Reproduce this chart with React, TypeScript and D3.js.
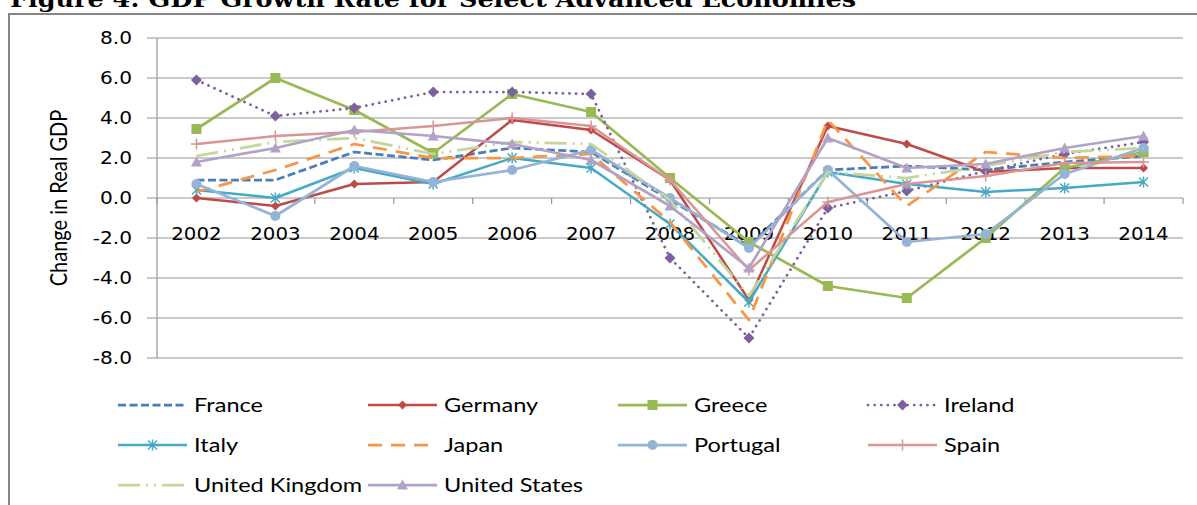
import React from "react";
import * as d3 from "d3";

const years = ["2002", "2003", "2004", "2005", "2006", "2007", "2008", "2009", "2010", "2011", "2012", "2013", "2014"];
const yTicks = [8, 6, 4, 2, 0, -2, -4, -6, -8];

const france = [0.9, 0.9, 2.3, 1.9, 2.5, 2.3, -0.1, -2.4, 1.4, 1.6, 1.4, 1.8, 2.1];
const germany = [0.0, -0.4, 0.7, 0.8, 3.9, 3.4, 0.9, -5.1, 3.6, 2.7, 1.3, 1.5, 1.5];
const greece = [3.45, 6.0, 4.4, 2.25, 5.2, 4.3, 1.0, -2.2, -4.4, -5.0, -2.0, 1.5, 2.3];
const ireland = [5.9, 4.1, 4.5, 5.3, 5.3, 5.2, -3.0, -7.0, -0.5, 0.35, 1.35, 2.2, 2.8];
const italy = [0.4, 0.0, 1.5, 0.7, 2.0, 1.5, -1.3, -5.2, 1.3, 0.7, 0.3, 0.5, 0.8];
const japan = [0.3, 1.4, 2.7, 2.0, 2.0, 2.2, -1.2, -6.1, 3.9, -0.4, 2.3, 2.0, 2.1];
const portugal = [0.7, -0.9, 1.6, 0.8, 1.4, 2.4, 0.0, -2.5, 1.4, -2.2, -1.8, 1.2, 2.5];
const spain = [2.7, 3.1, 3.3, 3.6, 4.0, 3.6, 0.9, -3.6, -0.2, 0.7, 1.1, 1.75, 1.8];
const uk = [2.1, 2.8, 3.0, 2.2, 2.8, 2.7, -0.1, -4.9, 1.3, 1.0, 1.6, 2.3, 2.5];
const us = [1.8, 2.5, 3.4, 3.1, 2.7, 1.9, -0.4, -3.5, 3.0, 1.5, 1.7, 2.5, 3.1];

const seriesNames = ["France", "Germany", "Greece", "Ireland", "Italy", "Japan", "Portugal", "Spain", "United Kingdom", "United States"];
const seriesValues = [france, germany, greece, ireland, italy, japan, portugal, spain, uk, us];

type Marker = "none" | "diamond" | "square" | "diamondBig" | "star" | "circle" | "plus" | "triangle";
const styles: { color: string; dash?: string; cap?: string; marker: Marker; width: number }[] = [
  { color: "#4A7EBB", dash: "8 3.5", marker: "none", width: 2.75 },
  { color: "#BE4B48", marker: "diamond", width: 2.5 },
  { color: "#98B954", marker: "square", width: 2.75 },
  { color: "#7D60A0", dash: "0.1 6.5", cap: "round", marker: "diamondBig", width: 2.75 },
  { color: "#46AAC5", marker: "star", width: 2.5 },
  { color: "#F79646", dash: "14 9", marker: "none", width: 2.75 },
  { color: "#95B3D7", marker: "circle", width: 2.75 },
  { color: "#D99694", marker: "plus", width: 2.5 },
  { color: "#C3D69B", dash: "22 6 2 6 2 6", marker: "none", width: 2.75 },
  { color: "#B3A2C7", marker: "triangle", width: 2.75 },
];

function markerEl(m: Marker, cx: number, cy: number, color: string, key: string) {
  switch (m) {
    case "diamond": {
      const h = 4.5;
      return <path key={key} d={`M${cx},${cy - h}L${cx + h},${cy}L${cx},${cy + h}L${cx - h},${cy}Z`} fill={color} />;
    }
    case "diamondBig": {
      const h = 5.5;
      return <path key={key} d={`M${cx},${cy - h}L${cx + h},${cy}L${cx},${cy + h}L${cx - h},${cy}Z`} fill={color} />;
    }
    case "square": {
      const h = 5;
      return <rect key={key} x={cx - h} y={cy - h} width={2 * h} height={2 * h} fill={color} />;
    }
    case "circle":
      return <circle key={key} cx={cx} cy={cy} r={5} fill={color} />;
    case "triangle": {
      const h = 5.5;
      return <path key={key} d={`M${cx},${cy - h}L${cx + h},${cy + h * 0.8}L${cx - h},${cy + h * 0.8}Z`} fill={color} />;
    }
    case "star": {
      const h = 4.5;
      return (
        <path key={key} d={`M${cx},${cy - h - 1}L${cx},${cy + h + 1}M${cx - h},${cy - h}L${cx + h},${cy + h}M${cx - h},${cy + h}L${cx + h},${cy - h}`} stroke={color} strokeWidth={1.5} fill="none" />
      );
    }
    case "plus": {
      const h = 5.5;
      return <path key={key} d={`M${cx},${cy - h}L${cx},${cy + h}M${cx - h},${cy}L${cx + h},${cy}`} stroke={color} strokeWidth={1.5} fill="none" />;
    }
    default:
      return null;
  }
}

export default function App() {
  const W = 1197;
  const H = 505;
  const x = d3.scaleBand<string>().domain(years).range([157, 1183]);
  const y = d3.scaleLinear().domain([-8, 8]).range([358, 38]);
  const bw = x.bandwidth();
  const cxOf = (i: number) => (x(years[i]) as number) + bw / 2;
  const line = d3
    .line<number>()
    .x((_, i) => cxOf(i))
    .y((d) => y(d));

  const tickFont = "'DejaVu Sans', Verdana, sans-serif";
  const legFont = "Lato, 'Noto Sans', sans-serif";

  return (
    <svg width={W} height={H} style={{ position: "absolute", left: 0, top: 0, background: "#fff" }}>
      <rect x={0} y={0} width={W} height={H} fill="#fff" />
      {/* title (cut off at top) */}
      <text x={10} y={7} fontFamily="'DejaVu Serif', 'Liberation Serif', serif" fontWeight="bold" fontSize={22} textLength={846} lengthAdjust="spacingAndGlyphs" fill="#000">
        Figure 4: GDP Growth Rate for Select Advanced Economies
      </text>
      {/* frame */}
      <path d={`M9,${H + 5}L9,14L${W + 5},14`} fill="none" stroke="#868686" strokeWidth={2} />

      {/* gridlines */}
      {yTicks.map((t) => (
        <line key={"g" + t} x1={147} x2={1183} y1={y(t)} y2={y(t)} stroke="#969696" strokeWidth={1.2} />
      ))}
      {/* y axis */}
      <line x1={157} x2={157} y1={y(8)} y2={y(-8)} stroke="#969696" strokeWidth={1.2} />
      {/* x axis ticks */}
      {years.map((yr) => (
        <line key={"t" + yr} x1={x(yr)} x2={x(yr)} y1={y(0)} y2={y(0) + 6} stroke="#969696" strokeWidth={1.2} />
      ))}
      <line x1={1183} x2={1183} y1={y(0)} y2={y(0) + 6} stroke="#969696" strokeWidth={1.2} />

      {/* y tick labels */}
      {yTicks.map((t) => (
        <text key={"yl" + t} transform={`translate(132,${y(t) + 6.4}) scale(1.15,1)`} textAnchor="end" fontFamily={tickFont} fontSize={17.5} fill="#000">
          {t.toFixed(1)}
        </text>
      ))}
      {/* x tick labels */}
      {years.map((yr, i) => (
        <text key={"xl" + yr} transform={`translate(${cxOf(i)},240) scale(1.1,1)`} textAnchor="middle" fontFamily={tickFont} fontSize={18} fill="#000">
          {yr}
        </text>
      ))}

      {/* y axis title */}
      <text transform="translate(67,198) scale(1.2,1) rotate(-90)" textAnchor="middle" fontFamily={legFont} fontSize={20} fill="#000">
        Change in Real GDP
      </text>

      {/* series */}
      {seriesValues.map((vals, si) => {
        const st = styles[si];
        return (
          <g key={"s" + si}>
            <path d={line(vals) || ""} fill="none" stroke={st.color} strokeWidth={st.width} strokeDasharray={st.dash} strokeLinecap={(st.cap as any) || "butt"} strokeLinejoin="round" />
            {vals.map((v, i) => markerEl(st.marker, cxOf(i), y(v), st.color, `m${si}-${i}`))}
          </g>
        );
      })}

      {/* legend */}
      {seriesNames.map((name, i) => {
        const col = i % 4;
        const row = Math.floor(i / 4);
        const lx = 118 + col * 250;
        const ly = 405 + row * 40;
        const st = styles[i];
        return (
          <g key={"lg" + i}>
            <line x1={lx} x2={lx + 69} y1={ly} y2={ly} stroke={st.color} strokeWidth={st.width} strokeDasharray={st.dash} strokeLinecap={(st.cap as any) || "butt"} />
            {markerEl(st.marker, lx + 34.5, ly, st.color, "lm" + i)}
            <text transform={`translate(${lx + 76},${ly + 6.5}) scale(1.24,1)`} fontFamily={legFont} fontSize={19} fill="#000">
              {name}
            </text>
          </g>
        );
      })}
    </svg>
  );
}
